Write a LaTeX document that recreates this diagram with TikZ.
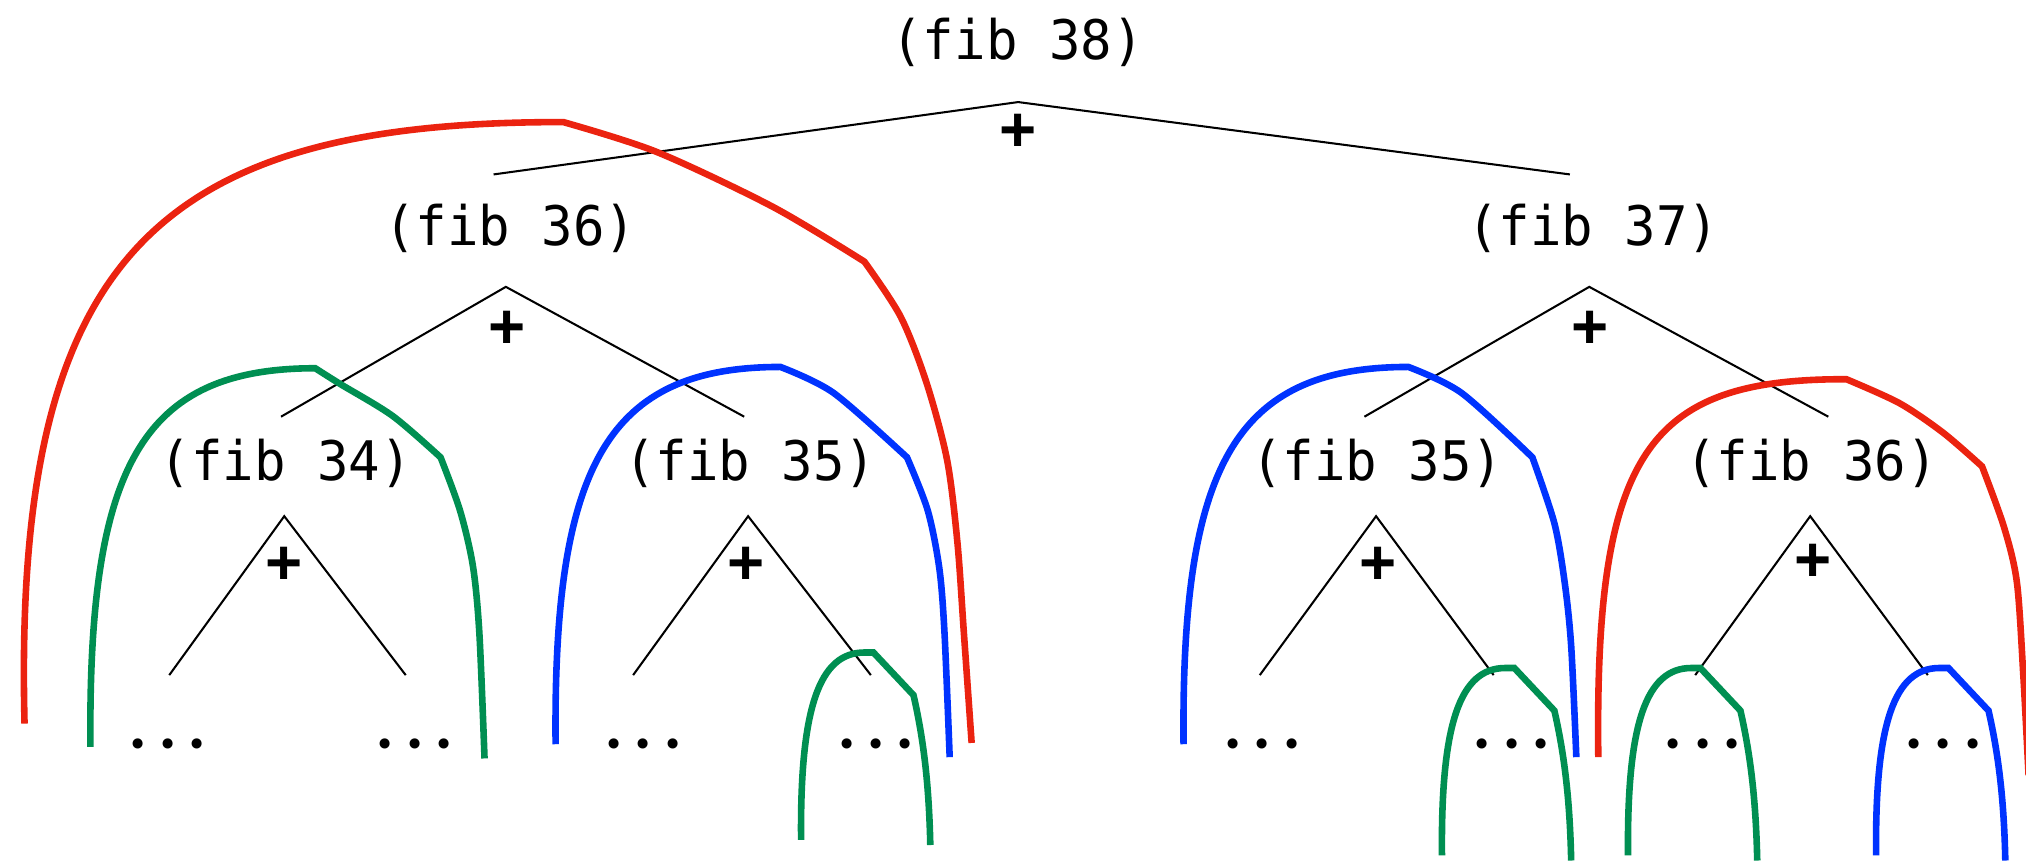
\documentclass[tikz,border=0pt]{standalone}
\usepackage{fontspec}
\usepackage{xcolor}
\usetikzlibrary{positioning}
\newfontfamily\fibfont[FakeStretch=0.96]{DejaVu Sans Mono}
\newfontfamily\plusfont{Liberation Sans}
\newfontfamily\dotfont[LetterSpace=15]{Poppins}
\definecolor{callred}{RGB}{235,35,16}
\definecolor{callgreen}{RGB}{0,143,82}
\definecolor{callblue}{RGB}{0,51,255}

\begin{document}
\begin{tikzpicture}[x=0.01cm, y=-0.01cm,
        fib style/.style={anchor=base, inner sep=0pt, font=\fibfont\fontsize{12}{14}\selectfont},
        plus style/.style={inner sep=0pt, font=\plusfont\bfseries\fontsize{14}{16}\selectfont},
        dots style/.style={inner sep=0pt, font=\dotfont\fontsize{18}{20}\selectfont},
        branch/.style={line width=0.45pt, black},
        arc/.style={line width=1.45pt, line cap=butt}
    ]
        \useasboundingbox (0,0) rectangle (1568,667);

        % calls
        \node[fib style] (f38) at (787.5,46) {(fib 38)};
        \node[fib style] (f36a) at (395,190) {(fib 36)};
        \node[fib style] (f37) at (1233,190) {(fib 37)};
        \node[fib style] (f34) at (221,371.5) {(fib 34)};
        \node[fib style] (f35a) at (580.5,371.5) {(fib 35)};
        \node[fib style] (f35b) at (1066,371.5) {(fib 35)};
        \node[fib style] (f36b) at (1402,371.5) {(fib 36)};

        \node[plus style] (p38) at (788,103) {+};
        \node[plus style] (p36a) at (392.5,255) {+};
        \node[plus style] (p37) at (1230.5,255) {+};
        \node[plus style] (p34) at (220,438) {+};
        \node[plus style] (p35a) at (577.5,438) {+};
        \node[plus style] (p35b) at (1066.5,438) {+};
        \node[plus style] (p36b) at (1403,436) {+};

        \node[dots style] (d1) at (130,576) {...};
        \node[dots style] (d2) at (321,576) {...};
        \node[dots style] (d3) at (498,576) {...};
        \node[dots style] (d4) at (678,576) {...};
        \node[dots style] (d5) at (977,576) {...};
        \node[dots style] (d6) at (1170,576) {...};
        \node[dots style] (d7) at (1318,576) {...};
        \node[dots style] (d8) at (1504,576) {...};

        % branch points
        \coordinate (t38) at (788,79);
        \coordinate (t38l) at (382,135);
        \coordinate (t38r) at (1215,135);
        \coordinate (t36a) at (391.5,222);
        \coordinate (t36al) at (217.5,322.5);
        \coordinate (t36ar) at (576,322.5);
        \coordinate (t37) at (1230,222);
        \coordinate (t37l) at (1056,322.5);
        \coordinate (t37r) at (1415,322.5);
        \coordinate (t34) at (220,399.5);
        \coordinate (t34l) at (131,522.5);
        \coordinate (t34r) at (314,522.5);
        \coordinate (t35a) at (579,399.5);
        \coordinate (t35al) at (490,522.5);
        \coordinate (t35ar) at (674,522.5);
        \coordinate (t35b) at (1065,399.5);
        \coordinate (t35bl) at (975,522.5);
        \coordinate (t35br) at (1156,522.5);
        \coordinate (t36b) at (1401,399.5);
        \coordinate (t36bl) at (1312,522.5);
        \coordinate (t36br) at (1492,522.5);

        \draw[branch] (t38l) -- (t38) -- (t38r);
        \draw[branch] (t36al) -- (t36a) -- (t36ar);
        \draw[branch] (t37l) -- (t37) -- (t37r);
        \draw[branch] (t34l) -- (t34) -- (t34r);
        \draw[branch] (t35al) -- (t35a) -- (t35ar);
        \draw[branch] (t35bl) -- (t35b) -- (t35br);
        \draw[branch] (t36bl) -- (t36b) -- (t36br);

        % repeated work
        \draw[arc, callred] (19,560) .. controls (10,200) and (120,94) .. (436,94.5)
            -- plot[smooth] coordinates {(436,94.5) (508,117.5) (598,160) (669,202.5)}
            -- plot[smooth] coordinates {(669,202.5) (697,245) (717,296) (733,356) (741,420) (746,490) (752,575)};
        \draw[arc, callgreen] (70,578) .. controls (68,360) and (110,285) .. (244,285)
            -- plot[smooth] coordinates {(244,285) (263,297) (304,322) (341,354)}
            -- plot[smooth] coordinates {(341,354) (356,395) (366,438) (371,490) (375,587)};
        \draw[arc, callblue] (430,576) .. controls (428,360) and (470,284) .. (604,284)
            -- plot[smooth] coordinates {(604,284) (645,304) (702,354)}
            -- plot[smooth] coordinates {(702,354) (718,395) (727,440) (731,490) (735,586)};
        \draw[arc, callgreen] (620,650) .. controls (619,548) and (634,505) .. (669,505) -- (676,505)
            -- (707,538) .. controls (715,573) and (719,608) .. (720,654);
        \draw[arc, callblue] (916,576) .. controls (914,360) and (956,284) .. (1090,284)
            -- plot[smooth] coordinates {(1090,284) (1131,304) (1186,354)}
            -- plot[smooth] coordinates {(1186,354) (1203,405) (1211,451) (1216,500) (1220,586)};
        \draw[arc, callred] (1237,586) .. controls (1234,350) and (1275,293) .. (1429,293.5)
            -- plot[smooth] coordinates {(1429,293.5) (1470,312) (1504,335) (1534,361)}
            -- plot[smooth] coordinates {(1534,361) (1551,408) (1561,451) (1566,524) (1570,600)};
        \draw[arc, callgreen] (1116,662) .. controls (1115,560) and (1130,517) .. (1165,517) -- (1172,517)
            -- (1203,550) .. controls (1211,585) and (1215,620) .. (1216,666);
        \draw[arc, callgreen] (1260,662) .. controls (1259,560) and (1274,517) .. (1309,517) -- (1316,517)
            -- (1347,550) .. controls (1355,585) and (1359,620) .. (1360,666);
        \draw[arc, callblue] (1452,662) .. controls (1451,560) and (1466,517) .. (1501,517) -- (1508,517)
            -- (1539,550) .. controls (1547,585) and (1551,620) .. (1552,666);
    \end{tikzpicture}
\end{document}
